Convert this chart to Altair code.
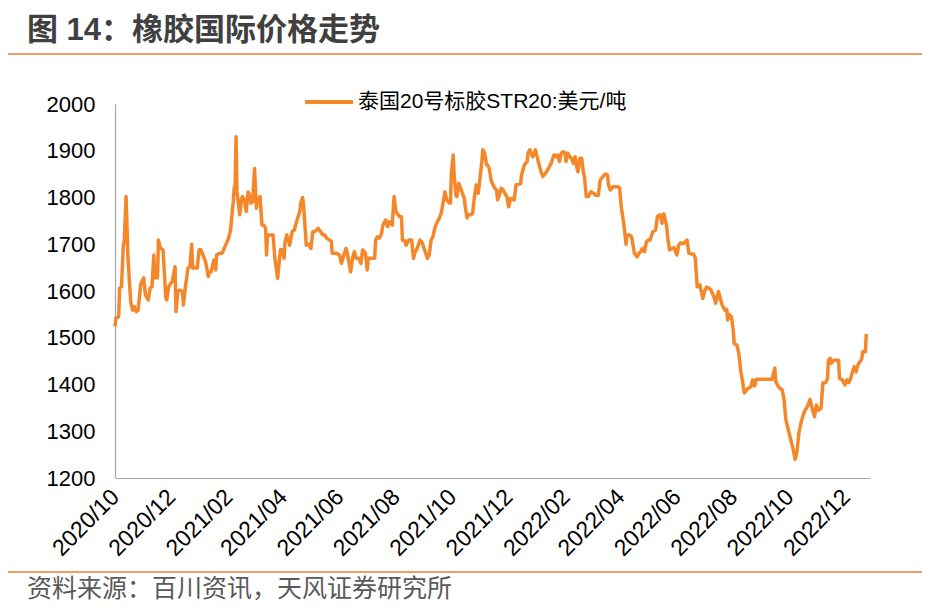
import altair as alt
import pandas as pd

FONT = "Liberation Sans, Arial, Noto Sans CJK SC"
ORANGE = "#F5872B"

title_text = "图 14：橡胶国际价格走势"
source_text = "资料来源：百川资讯，天风证券研究所"
series_name = "泰国20号标胶STR20:美元/吨"

dates = [
"2020-10-01","2020-10-02","2020-10-05","2020-10-06","2020-10-08","2020-10-10","2020-10-11","2020-10-13","2020-10-15","2020-10-18",
"2020-10-20","2020-10-22","2020-10-24","2020-10-26","2020-10-29","2020-10-30","2020-11-01","2020-11-03","2020-11-06","2020-11-08",
"2020-11-10","2020-11-12","2020-11-13","2020-11-15","2020-11-16","2020-11-17","2020-11-19","2020-11-22","2020-11-25","2020-11-26",
"2020-11-28","2020-11-30","2020-12-02","2020-12-05","2020-12-06","2020-12-08","2020-12-10","2020-12-13","2020-12-14","2020-12-16",
"2020-12-19","2020-12-21","2020-12-23","2020-12-24","2020-12-29","2020-12-31","2021-01-02","2021-01-05","2021-01-07","2021-01-10",
"2021-01-11","2021-01-13","2021-01-16","2021-01-18","2021-01-19","2021-01-22","2021-01-25","2021-01-28","2021-02-01","2021-02-03",
"2021-02-06","2021-02-07","2021-02-08","2021-02-09","2021-02-10","2021-02-13","2021-02-15","2021-02-16","2021-02-18","2021-02-20",
"2021-02-22","2021-02-23","2021-02-25","2021-02-27","2021-03-01","2021-03-03","2021-03-04","2021-03-07","2021-03-09","2021-03-11",
"2021-03-13","2021-03-14","2021-03-15","2021-03-19","2021-03-21","2021-03-23","2021-03-26","2021-03-29","2021-03-31","2021-04-02",
"2021-04-03","2021-04-05","2021-04-08","2021-04-10","2021-04-11","2021-04-13","2021-04-16","2021-04-19","2021-04-20","2021-04-22",
"2021-04-23","2021-04-25","2021-04-26","2021-04-29","2021-05-01","2021-05-03","2021-05-05","2021-05-07","2021-05-09","2021-05-11",
"2021-05-14","2021-05-16","2021-05-18","2021-05-21","2021-05-23","2021-05-24","2021-05-28","2021-06-01","2021-06-03","2021-06-05",
"2021-06-08","2021-06-09","2021-06-11","2021-06-13","2021-06-15","2021-06-17","2021-06-19","2021-06-22","2021-06-24","2021-06-26",
"2021-06-29","2021-07-01","2021-07-02","2021-07-06","2021-07-09","2021-07-10","2021-07-12","2021-07-14","2021-07-16","2021-07-18",
"2021-07-21","2021-07-23","2021-07-25","2021-07-28","2021-07-30","2021-08-01","2021-08-05","2021-08-07","2021-08-08","2021-08-11",
"2021-08-12","2021-08-15","2021-08-18","2021-08-20","2021-08-22","2021-08-24","2021-08-27","2021-08-29","2021-09-01","2021-09-04",
"2021-09-06","2021-09-08","2021-09-10","2021-09-12","2021-09-14","2021-09-17","2021-09-19","2021-09-21","2021-09-23","2021-09-25",
"2021-09-28","2021-09-29","2021-09-30","2021-10-02","2021-10-03","2021-10-05","2021-10-06","2021-10-08","2021-10-10","2021-10-12",
"2021-10-14","2021-10-15","2021-10-17","2021-10-18","2021-10-21","2021-10-23","2021-10-25","2021-10-27","2021-10-29","2021-10-31",
"2021-11-02","2021-11-03","2021-11-05","2021-11-07","2021-11-08","2021-11-10","2021-11-12","2021-11-14","2021-11-16","2021-11-18",
"2021-11-19","2021-11-21","2021-11-23","2021-11-25","2021-11-27","2021-11-29","2021-12-01","2021-12-03","2021-12-05","2021-12-07",
"2021-12-09","2021-12-14","2021-12-15","2021-12-18","2021-12-21","2021-12-22","2021-12-24","2021-12-27","2021-12-30","2022-01-02",
"2022-01-05","2022-01-07","2022-01-10","2022-01-13","2022-01-16","2022-01-19","2022-01-22","2022-01-23","2022-01-25","2022-01-27",
"2022-01-29","2022-01-31","2022-02-01","2022-02-03","2022-02-05","2022-02-07","2022-02-09","2022-02-11","2022-02-12","2022-02-14",
"2022-02-16","2022-02-18","2022-02-20","2022-02-21","2022-02-23","2022-02-25","2022-02-28","2022-03-03","2022-03-05","2022-03-08",
"2022-03-10","2022-03-13","2022-03-16","2022-03-18","2022-03-19","2022-03-21","2022-03-24","2022-03-27","2022-03-29","2022-03-31",
"2022-04-02","2022-04-04","2022-04-06","2022-04-07","2022-04-08","2022-04-11","2022-04-13","2022-04-16","2022-04-19","2022-04-21",
"2022-04-23","2022-04-25","2022-04-27","2022-04-29","2022-05-01","2022-05-03","2022-05-06","2022-05-09","2022-05-11","2022-05-14",
"2022-05-16","2022-05-18","2022-05-21","2022-05-22","2022-05-24","2022-05-27","2022-05-29","2022-06-01","2022-06-03","2022-06-05",
"2022-06-08","2022-06-10","2022-06-12","2022-06-14","2022-06-17","2022-06-19","2022-06-21","2022-06-23","2022-06-25","2022-06-26",
"2022-06-29","2022-07-01","2022-07-03","2022-07-06","2022-07-08","2022-07-11","2022-07-13","2022-07-16","2022-07-18","2022-07-20",
"2022-07-23","2022-07-25","2022-07-26","2022-07-28","2022-07-30","2022-08-01","2022-08-02","2022-08-05","2022-08-07","2022-08-09",
"2022-08-13","2022-08-16","2022-08-20","2022-08-22","2022-08-24","2022-08-26","2022-08-28","2022-09-03","2022-09-08","2022-09-12",
"2022-09-15","2022-09-16","2022-09-19","2022-09-23","2022-09-25","2022-09-27","2022-10-01","2022-10-05","2022-10-07","2022-10-09",
"2022-10-11","2022-10-14","2022-10-17","2022-10-21","2022-10-23","2022-10-25","2022-10-28","2022-10-30","2022-11-01","2022-11-04",
"2022-11-06","2022-11-09","2022-11-11","2022-11-12","2022-11-14","2022-11-15","2022-11-18","2022-11-21","2022-11-23","2022-11-24",
"2022-11-27","2022-11-30","2022-12-02","2022-12-04","2022-12-06","2022-12-08","2022-12-10","2022-12-12","2022-12-14","2022-12-16",
"2022-12-18","2022-12-19","2022-12-22","2022-12-23",
]

prices = [
1524,1542,1545,1606,1609,1698,1705,1802,1671,1577,
1559,1566,1556,1559,1616,1620,1628,1591,1581,1606,
1609,1677,1628,1656,1628,1709,1692,1688,1585,1581,
1609,1616,1620,1652,1556,1599,1602,1599,1570,1606,
1649,1652,1700,1649,1649,1688,1688,1673,1663,1631,
1641,1641,1666,1645,1677,1681,1681,1695,1713,1730,
1791,1820,1827,1930,1812,1763,1798,1802,1795,1770,
1812,1809,1788,1791,1862,1777,1791,1802,1741,1741,
1734,1677,1720,1720,1720,1670,1627,1688,1688,1670,
1705,1720,1698,1720,1728,1730,1752,1770,1788,1800,
1784,1727,1698,1700,1691,1727,1727,1730,1734,1728,
1720,1720,1713,1709,1707,1681,1681,1677,1659,1673,
1691,1684,1663,1641,1670,1684,1670,1670,1659,1688,
1681,1645,1670,1670,1670,1709,1716,1713,1720,1741,
1752,1738,1748,1741,1802,1770,1759,1759,1709,1707,
1698,1709,1709,1670,1684,1691,1709,1705,1688,1670,
1677,1709,1716,1734,1745,1756,1766,1788,1812,1795,
1788,1788,1852,1891,1848,1805,1802,1830,1820,1809,
1798,1780,1756,1763,1763,1766,1802,1827,1809,1841,
1877,1902,1895,1870,1870,1862,1837,1827,1820,1816,
1795,1805,1820,1816,1809,1802,1780,1798,1797,1795,
1827,1830,1848,1870,1877,1895,1902,1887,1902,1877,
1855,1845,1852,1862,1873,1891,1887,1891,1877,1895,
1898,1895,1877,1895,1887,1884,1873,1887,1870,1855,
1884,1884,1852,1845,1802,1802,1812,1809,1805,1805,
1837,1845,1850,1848,1827,1816,1823,1823,1823,1820,
1777,1752,1720,1700,1720,1720,1716,1681,1673,1681,
1684,1691,1684,1705,1709,1709,1727,1730,1760,1763,
1745,1765,1738,1716,1688,1691,1693,1677,1698,1703,
1701,1705,1709,1681,1679,1679,1670,1609,1609,1613,
1584,1599,1608,1606,1602,1588,1574,1599,1584,1570,
1559,1561,1538,1549,1545,1517,1488,1484,1467,1431,
1382,1390,1395,1410,1397,1411,1411,1411,1411,1411,
1435,1406,1395,1388,1367,1324,1292,1260,1240,1256,
1296,1324,1342,1356,1368,1352,1331,1356,1345,1349,
1403,1404,1413,1452,1456,1445,1452,1452,1452,1413,
1410,1399,1410,1404,1413,1427,1438,1427,1442,1449,
1454,1470,1470,1508,
]

x_tick_dates = [
"2020-10-01","2020-12-01","2021-02-01","2021-04-01","2021-06-01","2021-08-01","2021-10-01",
"2021-12-01","2022-02-01","2022-04-01","2022-06-01","2022-08-01","2022-10-01","2022-12-01",
]
y_ticks = [1200, 1300, 1400, 1500, 1600, 1700, 1800, 1900, 2000]

df = pd.DataFrame({"date": dates, "price": prices, "series": series_name})

line = alt.Chart(df).mark_line(strokeWidth=3.5, strokeJoin="round").encode(
    x=alt.X(
        "date:T",
        scale=alt.Scale(domain=["2020-10-01", "2022-12-27"]),
        axis=alt.Axis(
            title=None,
            values=x_tick_dates,
            format="%Y/%m",
            labelAngle=315,
            labelAlign="right",
            labelBaseline="middle",
            labelPadding=15,
            labelFontSize=23,
            labelColor="#000000",
            labelFont=FONT,
            ticks=False,
            grid=False,
            domainColor="#A6A6A6",
            domainWidth=1.2,
            labelOverlap=False,
            labelFlush=False,
        ),
    ),
    y=alt.Y(
        "price:Q",
        scale=alt.Scale(domain=[1200, 2000], nice=False, zero=False),
        axis=alt.Axis(
            title=None,
            values=y_ticks,
            format="d",
            labelFontSize=22,
            labelColor="#000000",
            labelFont=FONT,
            labelPadding=20,
            ticks=False,
            grid=False,
            domainColor="#A6A6A6",
            domainWidth=1.2,
        ),
    ),
    color=alt.Color(
        "series:N",
        scale=alt.Scale(range=[ORANGE]),
        legend=alt.Legend(
            title=None,
            orient="none",
            legendX=188,
            legendY=-28,
            symbolType="stroke",
            symbolStrokeWidth=4,
            symbolSize=2300,
            labelFontSize=21,
            labelFont=FONT,
            labelColor="#000000",
            labelOffset=3,
            labelLimit=0,
            padding=0,
        ),
    ),
)

title_df = pd.DataFrame({"t": [title_text]})
title = alt.Chart(title_df).mark_text(
    align="left", baseline="middle", fontSize=31, fontWeight="bold",
    font=FONT, color="#404040",
).encode(text="t:N", x=alt.value(-88), y=alt.value(-73))

source_df = pd.DataFrame({"t": [source_text]})
source = alt.Chart(source_df).mark_text(
    align="left", baseline="middle", fontSize=25,
    font=FONT, color="#595959",
).encode(text="t:N", x=alt.value(-88), y=alt.value(485))

rule_df = pd.DataFrame({"k": [0]})
top_rule = alt.Chart(rule_df).mark_rule(color="#ED7D31", strokeWidth=1.3).encode(
    x=alt.value(-107), x2=alt.value(807), y=alt.value(-50)
)
bottom_rule = alt.Chart(rule_df).mark_rule(color="#ED7D31", strokeWidth=1.3).encode(
    x=alt.value(-107), x2=alt.value(807), y=alt.value(468)
)

chart = alt.layer(line, top_rule, bottom_rule, title, source).properties(
    width=755,
    height=374,
    background="#FFFFFF",
    autosize=alt.AutoSizeParams(type="none"),
    padding={"left": 107, "top": 96, "right": 55, "bottom": 130},
).configure_view(strokeWidth=0, stroke=None)

chart.save("out.html", embed_options={"renderer": "svg", "actions": False})
